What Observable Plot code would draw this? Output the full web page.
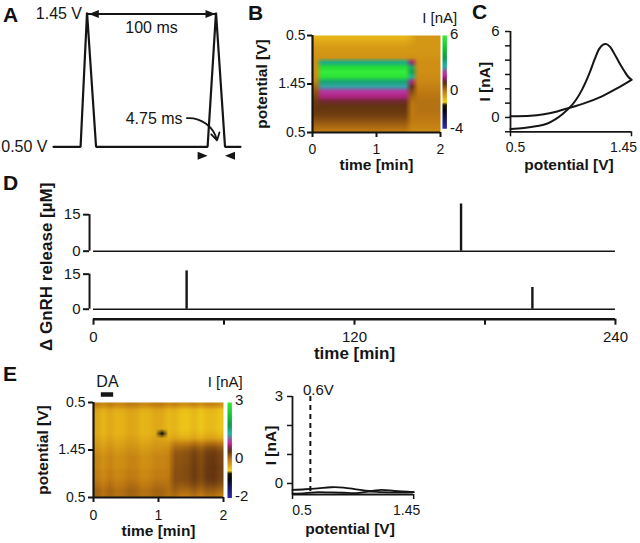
<!DOCTYPE html>
<html><head><meta charset="utf-8">
<script src="https://cdn.jsdelivr.net/npm/d3@7"></script>
<script src="https://cdn.jsdelivr.net/npm/@observablehq/plot@0.6"></script>
<style>
html,body{margin:0;padding:0;background:#fff;}
#fig{position:relative;width:640px;height:543px;overflow:hidden;background:#fff;}
#fig svg{position:absolute;}
.lbl{position:absolute;font-family:"Liberation Sans",Arial,sans-serif;font-weight:bold;font-size:21px;line-height:21px;color:#111;}
</style></head><body><div id="fig"></div>
<script>
// ================= DATA =================
// A: applied voltage waveform
const aTimeMs = [-26, -5, 0, 7, 93.5, 100, 107, 119];
const aVolt   = [0.50, 0.50, 1.45, 0.50, 0.50, 1.45, 0.50, 0.50];
const aPeriodMs = [0, 100];          // "100 ms" between scans
const aScanEdgesMs = [93.5, 107];    // edges of one scan

// B: colour plot (rows = potential sweep 0.5 -> 1.45 -> 0.5, cols = time 0..2 min, 0.1 min each)
const bRange = [-4, 6];
const bColorTicks = [6, 0, -4];
const bTimeTicks = [0, 1, 2];
const bPotTickPos = [0, 0.5, 1];
const bPotTickLabels = ["0.5", "1.45", "0.5"];
const bRowsPre = [-0.8,-0.6,-0.45,-0.4,-0.35,-0.3,-0.3,-0.3,-0.25,-0.1,0.2,0.45,0.6,0.75,0.8,0.8,0.7,0.5,0.25,0.05];
const bRowsOn  = [-0.8,-0.6,-0.45,-0.4,-0.35,3.0,5.4,6.0,5.6,3.2,2.6,1.9,1.6,1.1,0.85,0.8,0.7,0.5,0.25,0.05];
const bRowsTip = [-0.6,-0.5,-0.4,-0.4,-0.3,1.5,3.2,3.5,2.8,1.6,1.0,0.6,0.3,0.1,0.0,0.0,0.0,0.0,-0.1,-0.2];
const bRowsOff = [-0.4,-0.4,-0.4,-0.4,-0.35,-0.3,-0.3,-0.3,-0.25,-0.2,-0.1,0.0,0.05,0.1,0.1,0.1,0.05,0.0,-0.1,-0.2];
const bColState = ["pre","on","on","on","on","on","on","on","on","on","on","on","on","on","on","tip","off","off","off","off"];

// C: cyclic voltammogram
const cPotFwd = [0.5,0.605,0.71,0.79,0.854,0.907,0.96,1.012,1.064,1.117,1.161,1.195,1.227,1.253,1.282,1.314,1.353,1.392,1.424,1.45];
const cCurFwd = [-0.81,-0.74,-0.6,-0.42,-0.12,0.23,0.65,1.2,1.98,3.02,4.07,4.77,5.09,5.12,4.93,4.47,3.84,3.26,2.84,2.63];
const cPotRev = [1.45,1.34,1.209,1.077,0.972,0.867,0.762,0.657,0.5];
const cCurRev = [2.63,2.05,1.44,0.98,0.7,0.42,0.23,0.12,0.09];
const cYTicks = [-1,0,1,2,3,4,5,6];
const cYTickLabels = ["","0","","","","","","6"];
const cXTicks = [0.5, 1.45];
const cXTickLabels = ["0.5", "1.45"];

// D: GnRH release events
const dTimeTicks = [0, 60, 120, 180, 240];
const dTimeLabels = [0, 120, 240];
const dReleaseTicks = [0, 15];
const dTopTime = [169];
const dTopRelease = [19.4];
const dBotTime = [42.8, 201.8];
const dBotRelease = [16.4, 9.3];

// E: dopamine control
const eRange = [-2, 3];
const eColorTicks = [3, 0, -2];
const eRowsLeft  = [-0.05,-0.3,-0.35,-0.35,-0.35,-0.35,-0.35,-0.3,-0.25,-0.2,-0.15,-0.1,-0.1,-0.1,-0.05,-0.05,0.0,0.05,0.1,0.1];
const eRowsRight = [-0.1,-0.42,-0.45,-0.45,-0.45,-0.45,-0.4,-0.3,0.0,0.2,0.3,0.33,0.33,0.35,0.35,0.35,0.33,0.25,0.15,0.05];
const eColMix    = [0,0,0,0,0,0,0,0,0,0,0,0.25,0.7,0.9,0.95,1,1,1.05,1.1,1.1];
const eColStripe = [0.03,-0.06,0.03,-0.05,-0.03,0.04,0.02,-0.06,-0.04,0.03,0.02,-0.05,0.03,-0.05,-0.04,0.03,-0.06,0.03,0.03,-0.05];
const eSpot = {row: 6, col: 10, value: -0.9};
const eDA = [0.12, 0.31];            // DA application, min
const eDashPot = 0.64;               // "0.6V" marker
const ePotFwd = [0.5,0.6,0.7,0.8,0.9,1.0,1.1,1.2,1.3,1.45];
const eCurFwd = [-0.22,-0.2,-0.17,-0.13,-0.14,-0.2,-0.26,-0.22,-0.26,-0.3];
const ePotRev = [1.45,1.3,1.2,1.1,1.0,0.9,0.8,0.7,0.6,0.5];
const eCurRev = [-0.3,-0.31,-0.3,-0.28,-0.33,-0.32,-0.31,-0.3,-0.33,-0.35];
const eYTicks = [0,1,2,3];
const eYTickLabels = ["0","","","3"];

// colour map (fraction of range -> colour), FSCV style
const cmapStops  = [0, 0.12, 0.2, 0.255, 0.285, 0.33, 0.40, 0.49, 0.535, 0.575, 0.62, 0.67, 0.76, 0.86, 1];
const cmapColors = ["#2b2ba6","#14145c","#06060e","#1a1400","#f2d21a","#e2ac18","#c07a12","#5e3010","#8a2060","#c8279a","#8c5aa8","#1fb5a6","#0f9a4a","#13c232","#35ee3a"];

// ================= BUILD =================
const FONT = "'Liberation Sans',Arial,sans-serif";
const INK = "#151515";
const TICK = 14;
const TITLE = 15.5;
const fig = document.getElementById("fig");
const num = d => String(d);

function colorScale(r) {
  return {type: "linear", domain: cmapStops.map(f => r[0] + f * (r[1] - r[0])), range: cmapColors, clamp: true};
}
function panel(fr, pad, opts) {
  const width = fr.x1 - fr.x0 + pad[3] + pad[1];
  const height = fr.y1 - fr.y0 + pad[0] + pad[2];
  const svg = Plot.plot({
    width, height,
    marginTop: pad[0], marginRight: pad[1], marginBottom: pad[2], marginLeft: pad[3],
    style: {background: "transparent", overflow: "visible", fontFamily: FONT, fontSize: "15px", color: INK},
    ...opts
  });
  svg.style.position = "absolute";
  svg.style.left = (fr.x0 - pad[3]) + "px";
  svg.style.top = (fr.y0 - pad[0]) + "px";
  fig.appendChild(svg);
}
function vTitle(text, dx, dy = 0, size = TITLE) {
  return Plot.text([text], {frameAnchor: "left", textAnchor: "middle", dx, dy, rotate: -90, fontWeight: "bold", fontSize: size, fill: INK});
}
function hTitle(text, dy, dx = 0, size = TITLE) {
  return Plot.text([text], {frameAnchor: "bottom", textAnchor: "middle", dx, dy, fontWeight: "bold", fontSize: size, fill: INK});
}
const triRight = {draw(ctx, size) { const r = Math.sqrt(size / Math.PI); ctx.moveTo(r, 0); ctx.lineTo(-r, -0.8 * r); ctx.lineTo(-r, 0.8 * r); ctx.closePath(); }};
const triLeft  = {draw(ctx, size) { const r = Math.sqrt(size / Math.PI); ctx.moveTo(-r, 0); ctx.lineTo(r, -0.8 * r); ctx.lineTo(r, 0.8 * r); ctx.closePath(); }};

// ---- A ----
const aData = aTimeMs.map((t, i) => ({t, v: aVolt[i]}));
panel({x0: 53, x1: 240, y0: 11.7, y1: 146}, [15, 5, 25, 55], {
  x: {domain: [aTimeMs[0], aTimeMs[aTimeMs.length - 1]], axis: null},
  y: {domain: [0.5, 1.45], axis: null},
  marks: [
    Plot.line(aData, {x: "t", y: "v", stroke: INK, strokeWidth: 2.2, strokeLinejoin: "miter"}),
    Plot.link([aPeriodMs], {x1: d => d[0], x2: d => d[1], y1: 1.44, y2: 1.44, stroke: INK, strokeWidth: 2}),
    Plot.dot([aPeriodMs[0]], {x: d => d, y: 1.44, symbol: triLeft, r: 5, fill: INK, dx: 6.8}),
    Plot.dot([aPeriodMs[1]], {x: d => d, y: 1.44, symbol: triRight, r: 5, fill: INK, dx: -5.5}),
    Plot.text(["100 ms"], {x: (aPeriodMs[0] + aPeriodMs[1]) / 2, y: 1.44, dy: 13.5, fontSize: 16, fill: INK}),
    Plot.text(["1.45 V"], {x: 0, y: 1.45, dx: -5, dy: 1.5, textAnchor: "end", fontSize: 16, fill: INK}),
    Plot.text(["0.50 V"], {x: aTimeMs[0], y: 0.5, dx: -6, textAnchor: "end", fontSize: 16, fill: INK}),
    Plot.text(["4.75 ms"], {x: 52, y: 0.696, fontSize: 16, fill: INK}),
    Plot.arrow([0], {x1: 77.5, y1: 0.703, x2: 100.8, y2: 0.545, bend: 40, headLength: 7, stroke: INK, strokeWidth: 1.8}),
    Plot.dot([aScanEdgesMs[0]], {x: d => d, y: 0.5, dy: 9, dx: -5, symbol: triRight, r: 5, fill: INK}),
    Plot.dot([aScanEdgesMs[1]], {x: d => d, y: 0.5, dy: 9, dx: 5, symbol: triLeft, r: 5, fill: INK})
  ]
});

// ---- B ----
const bProfiles = {pre: bRowsPre, on: bRowsOn, tip: bRowsTip, off: bRowsOff};
const bGrid = [];
for (let r = 0; r < bRowsOn.length; r++) for (let c = 0; c < bColState.length; c++) bGrid.push(bProfiles[bColState[c]][r]);
panel({x0: 312, x1: 440, y0: 35, y1: 132}, [30, 5, 45, 70], {
  x: {domain: [0, 2]},
  y: {domain: [0, 1], reverse: true},
  color: colorScale(bRange),
  marks: [
    Plot.raster(bGrid, {width: bColState.length, height: bRowsOn.length, x1: 0, x2: 2, y1: 0, y2: 1, fill: Plot.identity, imageRendering: "auto"}),
    Plot.ruleX([0], {strokeWidth: 2.2, stroke: INK}),
    Plot.ruleY([1], {strokeWidth: 2.2, stroke: INK}),
    Plot.axisX({ticks: bTimeTicks, tickFormat: num, tickSize: 5, tickPadding: 6.5, fontSize: TICK, strokeWidth: 2, label: null}),
    Plot.axisY({ticks: bPotTickPos, tickFormat: d => bPotTickLabels[bPotTickPos.indexOf(d)], tickSize: 5, tickPadding: 2, fontSize: TICK, strokeWidth: 2, label: null}),
    hTitle("time [min]", 37.5),
    vTitle("potential [V]", -50)
  ]
});
panel({x0: 442.3, x1: 446.7, y0: 35, y1: 128.3}, [30, 20, 10, 5], {
  x: {domain: [0, 1], axis: null},
  y: {domain: bRange, axis: null},
  color: colorScale(bRange),
  marks: [
    Plot.raster({x1: 0, x2: 1, y1: bRange[0], y2: bRange[1], fill: (x, y) => y}),
    Plot.text(bColorTicks, {x: 1, y: d => d, text: num, dx: 3, dy: -1, textAnchor: "start", fontSize: 15, fill: INK}),
    Plot.text(["I [nA]"], {frameAnchor: "top", textAnchor: "middle", dx: -5, dy: -23, fontSize: 15, fill: INK})
  ]
});

// ---- C ----
const cData = cPotFwd.map((p, i) => ({p, i: cCurFwd[i], s: "fwd"})).concat(cPotRev.map((p, i) => ({p, i: cCurRev[i], s: "rev"})));
panel({x0: 510, x1: 631, y0: 30.7, y1: 131}, [20, 10, 45, 45], {
  x: {domain: [0.5, 1.45]},
  y: {domain: [-1, 6]},
  marks: [
    Plot.ruleX([0.5], {strokeWidth: 1.8, stroke: INK}),
    Plot.ruleY([-1], {strokeWidth: 1.8, stroke: INK}),
    Plot.axisY({ticks: cYTicks, tickFormat: d => cYTickLabels[cYTicks.indexOf(d)], tickSize: 5, tickPadding: 6, fontSize: 15, strokeWidth: 1.5, label: null}),
    Plot.axisX({ticks: cXTicks, tickFormat: () => "", tickSize: 5, strokeWidth: 1.5, label: null}),
    Plot.text([0], {x: cXTicks[0], frameAnchor: "bottom", textAnchor: "middle", dy: 20.5, dx: 5, text: () => cXTickLabels[0], fontSize: TICK, fill: INK}),
    Plot.text([1], {x: cXTicks[1], frameAnchor: "bottom", textAnchor: "middle", dy: 20.5, dx: -8, text: () => cXTickLabels[1], fontSize: TICK, fill: INK}),
    Plot.line(cData, {x: "p", y: "i", z: "s", curve: "catmull-rom", stroke: INK, strokeWidth: 2}),
    vTitle("I [nA]", -25),
    hTitle("potential [V]", 38, -2)
  ]
});

// ---- D ----
function dMarks(times, vals) {
  const spikes = times.map((t, i) => ({t, v: vals[i]}));
  return [
    Plot.ruleY([0], {stroke: INK, strokeWidth: 1.6}),
    Plot.ruleX(spikes, {x: "t", y1: 0, y2: "v", stroke: INK, strokeWidth: 2.4}),
    Plot.ruleX([0], {y1: 0, y2: dReleaseTicks[1], dx: -4, stroke: INK, strokeWidth: 2}),
    Plot.ruleY(dReleaseTicks, {y: d => d, x1: 0, x2: 0, insetLeft: -6, dx: -4, stroke: INK, strokeWidth: 2}),
    Plot.text(dReleaseTicks, {x: 0, y: d => d, text: num, dx: -13, textAnchor: "end", fontSize: 15, fill: INK})
  ];
}
panel({x0: 93, x1: 615, y0: 201.8, y1: 250.5}, [10, 10, 10, 90], {
  x: {domain: [0, 240], axis: null},
  y: {domain: [0, 20], axis: null},
  marks: dMarks(dTopTime, dTopRelease)
});
panel({x0: 93, x1: 615, y0: 268.6, y1: 308.3}, [10, 10, 60, 90], {
  x: {domain: [0, 240], axis: null},
  y: {domain: [0, 17], axis: null},
  marks: [
    ...dMarks(dBotTime, dBotRelease),
    Plot.ruleY([0], {dy: 10, stroke: INK, strokeWidth: 2.5}),
    Plot.ruleX(dTimeTicks, {x: d => d, y1: 0, y2: 0, insetBottom: -6, dy: 10, stroke: INK, strokeWidth: 2}),
    Plot.text(dTimeLabels, {x: d => d, y: 0, dy: 27.5, text: num, fontSize: 15, fill: INK}),
    hTitle("time [min]", 49.5, 0, 17),
    vTitle("Δ GnRH release [µM]", -47, -22.5, 17)
  ]
});

// ---- E left (colour plot) ----
const eGrid = [];
for (let r = 0; r < eRowsLeft.length; r++) for (let c = 0; c < eColMix.length; c++) {
  let v = eRowsLeft[r] * (1 - eColMix[c]) + eRowsRight[r] * eColMix[c] + eColStripe[c];
  if (r === eSpot.row && c === eSpot.col) v = eSpot.value;
  eGrid.push(v);
}
panel({x0: 93, x1: 223, y0: 401.7, y1: 496.7}, [30, 5, 45, 60], {
  x: {domain: [0, 2]},
  y: {domain: [0, 1], reverse: true},
  color: colorScale(eRange),
  marks: [
    Plot.raster(eGrid, {width: eColMix.length, height: eRowsLeft.length, x1: 0, x2: 2, y1: 0, y2: 1, fill: Plot.identity, imageRendering: "auto"}),
    Plot.ruleX([0], {strokeWidth: 2.2, stroke: INK}),
    Plot.ruleY([1], {strokeWidth: 2.2, stroke: INK}),
    Plot.axisX({ticks: bTimeTicks, tickFormat: num, tickSize: 5, tickPadding: 8, fontSize: TICK, strokeWidth: 2, label: null}),
    Plot.axisY({ticks: bPotTickPos, tickFormat: d => bPotTickLabels[bPotTickPos.indexOf(d)], tickSize: 5, tickPadding: 3, fontSize: TICK, strokeWidth: 2, label: null}),
    Plot.ruleY([0], {x1: eDA[0], x2: eDA[1], dy: -8, stroke: INK, strokeWidth: 4.5}),
    Plot.text(["DA"], {x: (eDA[0] + eDA[1]) / 2, y: 0, dy: -21, fontSize: 16, fill: INK}),
    hTitle("time [min]", 38.5),
    vTitle("potential [V]", -50)
  ]
});
panel({x0: 227.3, x1: 231.7, y0: 401.7, y1: 497.3}, [30, 20, 10, 5], {
  x: {domain: [0, 1], axis: null},
  y: {domain: eRange, axis: null},
  color: colorScale(eRange),
  marks: [
    Plot.raster({x1: 0, x2: 1, y1: eRange[0], y2: eRange[1], fill: (x, y) => y}),
    Plot.text(eColorTicks, {x: 1, y: d => d, text: num, dx: 3, dy: -2, textAnchor: "start", fontSize: 15, fill: INK}),
    Plot.text(["I [nA]"], {frameAnchor: "top", textAnchor: "middle", dx: -4.5, dy: -26, fontSize: 15, fill: INK})
  ]
});

// ---- E right (CV) ----
const eData = ePotFwd.map((p, i) => ({p, i: eCurFwd[i], s: "fwd"})).concat(ePotRev.map((p, i) => ({p, i: eCurRev[i], s: "rev"})));
panel({x0: 291.5, x1: 412.7, y0: 396, y1: 494}, [25, 20, 45, 40], {
  x: {domain: [0.5, 1.45]},
  y: {domain: [-0.38, 3]},
  marks: [
    Plot.ruleX([0.5], {strokeWidth: 1.8, stroke: INK}),
    Plot.ruleY([-0.38], {strokeWidth: 1.8, stroke: INK}),
    Plot.axisY({ticks: eYTicks, tickFormat: d => eYTickLabels[eYTicks.indexOf(d)], tickSize: 5, tickPadding: 4.5, fontSize: 15, strokeWidth: 1.5, label: null}),
    Plot.axisX({ticks: cXTicks, tickFormat: () => "", tickSize: 5, strokeWidth: 1.5, label: null}),
    Plot.text([0], {x: cXTicks[0], frameAnchor: "bottom", textAnchor: "middle", dy: 20.5, dx: 9.5, text: () => cXTickLabels[0], fontSize: TICK, fill: INK}),
    Plot.text([1], {x: cXTicks[1], frameAnchor: "bottom", textAnchor: "middle", dy: 20.5, dx: -7, text: () => cXTickLabels[1], fontSize: TICK, fill: INK}),
    Plot.ruleX([eDashPot], {stroke: INK, strokeWidth: 2, strokeDasharray: "5,4"}),
    Plot.text(["0.6V"], {x: eDashPot, y: 3, dx: 8, dy: -6, fontSize: 15, fill: INK}),
    Plot.line(eData, {x: "p", y: "i", z: "s", curve: "catmull-rom", stroke: INK, strokeWidth: 1.8}),
    vTitle("I [nA]", -21.5),
    hTitle("potential [V]", 39.5, -3)
  ]
});

// ---- panel letters ----
[["A", 3, 6.7], ["B", 248, 5], ["C", 472, 4], ["D", 3, 175], ["E", 3, 366]].forEach(([t, x, capTop]) => {
  const d = document.createElement("div");
  d.className = "lbl"; d.textContent = t;
  d.style.left = x + "px"; d.style.top = (capTop - 2.7) + "px";
  fig.appendChild(d);
});
</script>
</body></html>
